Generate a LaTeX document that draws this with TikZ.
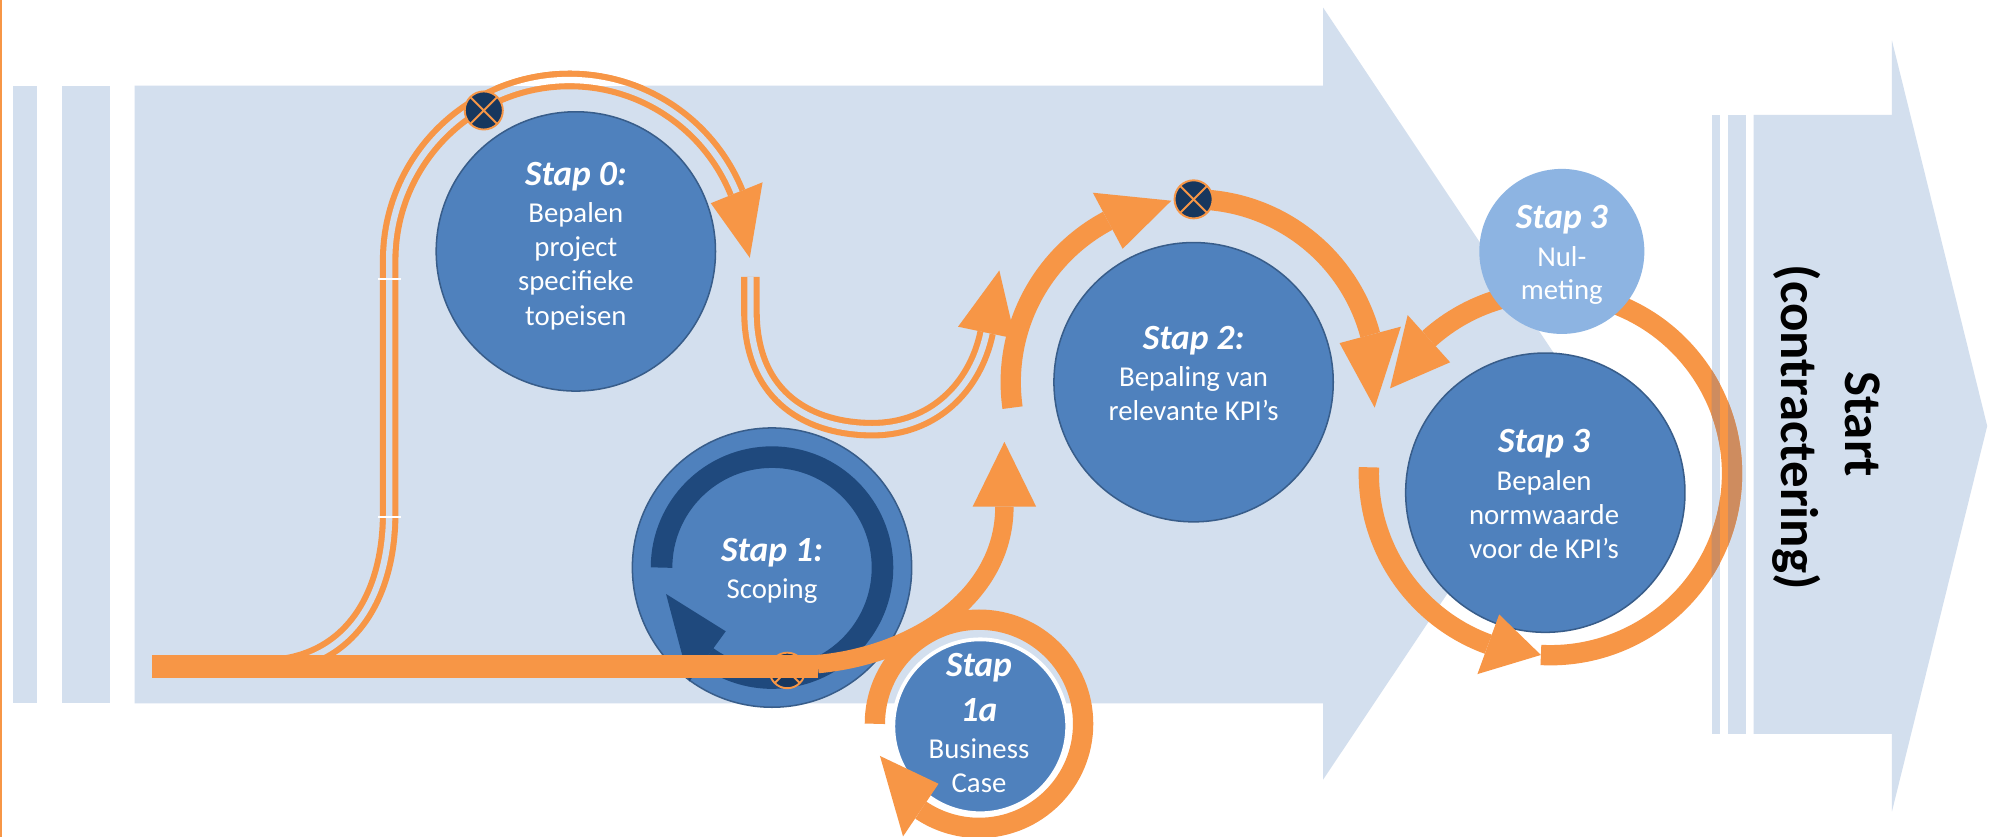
\documentclass[tikz,border=0pt]{standalone}
\usepackage{fontspec}
\setmainfont{Carlito}
\usetikzlibrary{calc}
\newlength\upx
\setlength\upx{0.5690551pt}
\definecolor{bodyC}{RGB}{211,223,238}
\definecolor{orangeC}{RGB}{247,150,70}
\definecolor{circC}{RGB}{79,129,189}
\definecolor{circEdge}{RGB}{56,93,138}
\definecolor{navyC}{RGB}{31,73,125}
\definecolor{markC}{RGB}{23,55,94}
\definecolor{nulC}{RGB}{141,180,226}
\definecolor{mixC}{RGB}{206,140,95}
\tikzset{
  stapcirc/.style={circle, fill=circC, draw=circEdge, line width=1.2*\upx, inner sep=0pt, minimum size=220*\upx},
  oarc/.style={draw=orangeC, line width=16*\upx},
  dbl/.style={draw=orangeC, line width=4.8*\upx, double=bodyC, double distance=5*\upx},
  ohead/.style={fill=orangeC},
  xmark/.style={circle, fill=markC, draw=orangeC, line width=1.5*\upx, inner sep=0pt, minimum size=30*\upx,
     path picture={\draw[orangeC, line width=1.5*\upx] (path picture bounding box.north west) -- (path picture bounding box.south east) (path picture bounding box.north east) -- (path picture bounding box.south west);}},
  ttl/.style={anchor=base, text=white, inner sep=0pt, font=\fontsize{15.9}{18}\selectfont\bfseries\itshape},
  txt/.style={anchor=base, text=white, inner sep=0pt, font=\fontsize{12.9}{15}\selectfont},
  strt/.style={anchor=base, rotate=-90, text=black, inner sep=0pt, font=\fontsize{23.7}{28}\selectfont\bfseries},
}
\newcommand\dblpathA{(205,525) .. controls (275,525) and (306.5,470) .. (306.5,404) -- (306.5,205) arc[start angle=180, end angle=338, radius=142]}
\newcommand\ringpathR{($(k3)+(285:143)$) arc[start angle=285, end angle=453, radius=143]}
\begin{document}
\begin{tikzpicture}[x=0.02cm, y=-0.02cm]
\useasboundingbox (0,0) rectangle (1568,659);
\fill[white] (0,0) rectangle (1568,659);
\fill[orangeC] (0,0) rectangle (1.6,659);
% left strips and big arrow
\fill[bodyC] (10,67.5) rectangle (29,554);
\fill[bodyC] (49,67.5) rectangle (87,554);
\fill[bodyC] (106,67.5) -- (1042,67.5) -- (1042,6) -- (1245,310) -- (1042,614) -- (1042,554) -- (106,554) -- cycle;
% right strips and arrow
\fill[bodyC] (1348,90.5) rectangle (1354.5,578);
\fill[bodyC] (1361,90.5) rectangle (1375,578);
\fill[bodyC] (1381,90.5) -- (1490,90.5) -- (1490,32) -- (1565,335.5) -- (1490,639) -- (1490,578) -- (1381,578) -- cycle;

% centres
\coordinate (k0) at (448.5,205);
\coordinate (k3) at (1221,373);
\coordinate (k1a) at (771,570);

% circles
\node[stapcirc] (s0) at (453.5,198) {};
\node[stapcirc] (s1) at (608,447) {};
\node[stapcirc] (s2) at (940,301) {};
\node[stapcirc] (s3) at (1217,388) {};
\node[stapcirc, draw=white, line width=3*\upx, minimum size=137*\upx] (s1a) at (772,572) {};

% Stap 1 inner ring
\draw[navyC, line width=17*\upx] ($(s1)+(180:87)$) arc[start angle=180, end angle=486, radius=87];
\fill[navyC] ($(s1)+(126:62)$) -- ($(s1)+(126:111)$) -- ($(s1)+(166:86)$) -- cycle;
\node[xmark, minimum size=28*\upx] (m1) at (620,528) {};

% double line around Stap 0
\draw[dbl] \dblpathA;
\begin{scope}
\clip (0,0) rectangle (1568,67.5);
\draw[dbl, double=white] \dblpathA;
\end{scope}
\fill[white] (298,219.3) rectangle (316,220.8);
\fill[white] (298,406.3) rectangle (316,407.8);
\fill[ohead] ($(k0)+(338:120)$) -- ($(k0)+(338:164)$) -- ($(k0)+(359.2:142)$) -- cycle;
\draw[dbl] (591,218) -- (591,245) .. controls (591,315) and (640,338) .. (687,338) .. controls (735,338) and (768,305) .. (777,262);
\fill[ohead] (754.5,257.3) -- (799.5,266.7) -- (787,213) -- cycle;

% main line
\draw[orangeC, line width=18*\upx] (120,525) -- (644,525);
\draw[orangeC, line width=14.5*\upx] (644,523) .. controls (720,516) and (791,470) .. (791,399);
\fill[ohead] (766,399) -- (816,399) -- (791,348) -- cycle;

% Stap 2 ring
\draw[oarc] ($(s2)+(172:144)$) arc[start angle=172, end angle=242, radius=144];
\fill[ohead] ($(s2)+(242:119)$) -- ($(s2)+(242:169)$) -- ($(s2)+(263:144)$) -- cycle;
\draw[oarc] ($(s2)+(270:144)$) arc[start angle=270, end angle=345, radius=144];
\fill[ohead] ($(s2)+(345:119)$) -- ($(s2)+(345:169)$) -- ($(s2)+(368:144)$) -- cycle;

% Stap 3 ring
\draw[oarc] ($(k3)+(255:143)$) arc[start angle=255, end angle=228, radius=143];
\fill[ohead] ($(k3)+(228:118)$) -- ($(k3)+(228:168)$) -- ($(k3)+(208:143)$) -- cycle;
\draw[oarc] ($(k3)+(182:143)$) arc[start angle=182, end angle=110, radius=143];
\fill[ohead] ($(k3)+(110:118)$) -- ($(k3)+(110:168)$) -- ($(k3)+(93:143)$) -- cycle;
\draw[oarc] \ringpathR;
\begin{scope}
\clip (1348,90.5) rectangle (1354.5,578) (1361,90.5) rectangle (1375,578);
\draw[oarc, draw=mixC] \ringpathR;
\end{scope}

% Stap 1a ring
\draw[oarc] ($(k1a)+(180:82)$) arc[start angle=180, end angle=484, radius=82];
\fill[ohead] ($(k1a)+(124:57)$) -- ($(k1a)+(124:107)$) -- ($(k1a)+(162:82)$) -- cycle;

% markers
\node[xmark] (m0) at (381,87) {};
\node[xmark] (m2) at ($(s2)+(270:144)$) {};

% Nul-meting circle
\node[circle, fill=nulC, inner sep=0pt, minimum size=130*\upx] (s3n) at (1230,198) {};

% texts
\node[ttl] (t0a) at (453.5,146) {Stap 0:};
\node[txt] (t0b) at (453.5,175) {Bepalen};
\node[txt] (t0c) at (453.5,202) {project};
\node[txt] (t0d) at (453.5,229) {specifieke};
\node[txt] (t0e) at (453.5,256) {topeisen};

\node[ttl] (t1a) at (608,442.5) {Stap 1:};
\node[txt] (t1b) at (608,471) {Scoping};

\node[ttl] (t1c) at (771,533) {Stap};
\node[ttl] (t1d) at (771,568.5) {1a};
\node[txt] (t1e) at (771,597) {Business};
\node[txt] (t1f) at (771,624.5) {Case};

\node[ttl] (t2a) at (940,275) {Stap 2:};
\node[txt] (t2b) at (940,304.5) {Bepaling van};
\node[txt] (t2c) at (940,331.5) {relevante KPI’s};

\node[ttl] (t3a) at (1216,356) {Stap 3};
\node[txt] (t3b) at (1216,386) {Bepalen};
\node[txt] (t3c) at (1216,413) {normwaarde};
\node[txt] (t3d) at (1216,440) {voor de KPI’s};

\node[ttl] (tna) at (1230,180) {Stap 3};
\node[txt] (tnb) at (1230,209.5) {Nul-};
\node[txt] (tnc) at (1230,236) {meting};

\node[strt] (st1) at (1453,334) {Start};
\node[strt] (st2) at (1403,336.5) {(contractering)};
\end{tikzpicture}
\end{document}
